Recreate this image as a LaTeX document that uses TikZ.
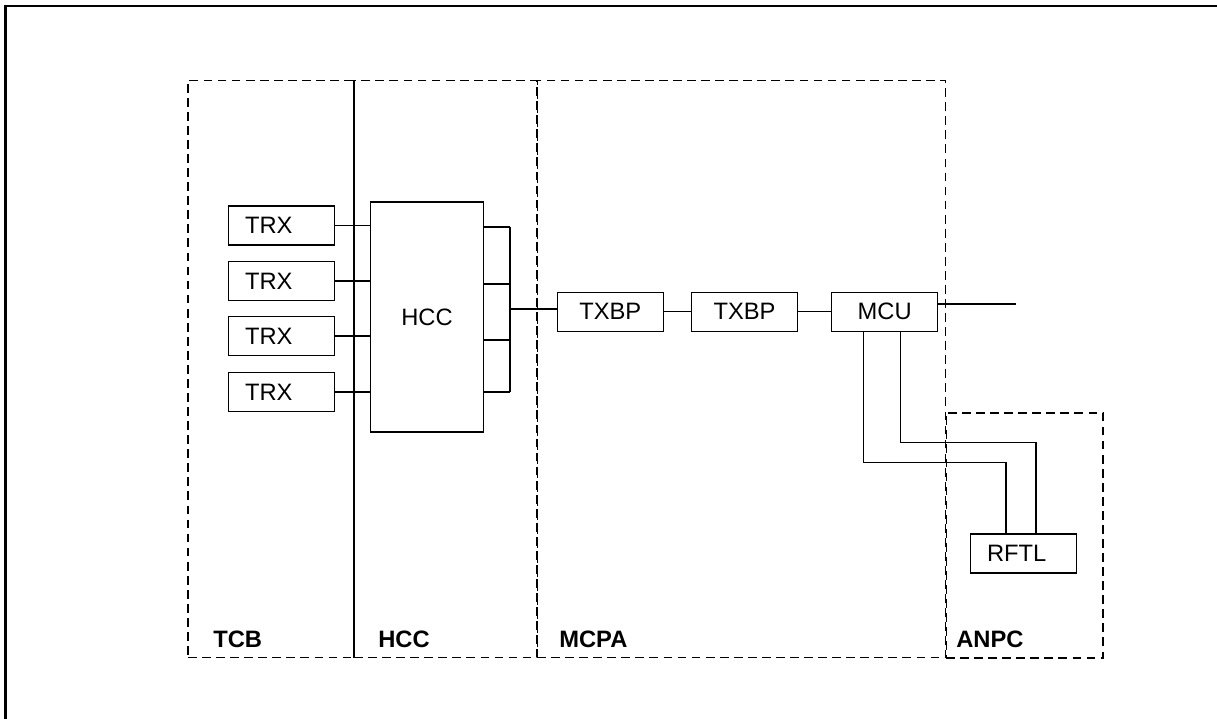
\documentclass[tikz,border=0pt]{standalone}
\usepackage{fontspec}
\setmainfont{Liberation Sans}
\usetikzlibrary{calc}

\begin{document}
\begin{tikzpicture}[x=0.02cm, y=-0.02cm,
    box/.style={draw, line width=0.6pt, inner sep=0pt, minimum width=2.12cm,
                minimum height=0.78cm, font=\fontsize{13.5}{16}\selectfont},
    lbox/.style={box, inner xsep=0.32cm, text width=1.46cm, align=left},
    region/.style={draw, dash pattern=on 5pt off 3pt, line width=0.6pt,
                   inner sep=0pt, outer sep=0pt},
    zone/.style={anchor=base west, inner sep=0pt,
                 font=\bfseries\fontsize{13.5}{16}\selectfont},
    wire/.style={line width=0.6pt}
  ]
    \useasboundingbox (0,0) rectangle (1217,719);
    \draw[line width=1.3pt] (5.5,719) |- (1217,6);

    % dashed areas
    \node[region, minimum width=3.32cm, minimum height=11.56cm] (tcb)  at (271,369)   {};
    \node[region, minimum width=3.66cm, minimum height=11.56cm] (hccz) at (445.5,369) {};
    \node[region, minimum width=8.18cm, minimum height=11.56cm] (mcpa) at (741.5,369) {};
    \node[region, minimum width=3.14cm, minimum height=4.9cm]   (anpc) at (1024.5,535.5) {};

    \node[zone] (tcbname)  at (213,647) {TCB};
    \node[zone] (hccname)  at (378,647) {HCC};
    \node[zone] (mcpaname) at (559,647) {MCPA};
    \node[zone] (anpcname) at (956,647) {ANPC};

    % blocks
    \node[box, minimum width=2.26cm, minimum height=4.6cm] (hcc) at (427,317) {HCC};
    \foreach \i/\y in {1/225.5, 2/281, 3/336, 4/392}
      \node[lbox] (trx\i) at (281.5,\y) {TRX};
    \foreach \i in {1,...,4}
      \draw[wire] (trx\i) -- (trx\i -| hcc.west);

    \node[box] (txbp1) at (610.3,311.7) {TXBP};
    \node[box] (txbp2) at (744.5,311.7) {TXBP};
    \node[box] (mcu)   at (884.7,311.7) {MCU};
    \node[lbox] (rftl) at (1023.5,553.5) {RFTL};

    % combiner outputs
    \coordinate (bus) at (510,309);
    \foreach \y in {227,284,340,392}
      \draw[wire] (hcc.east |- 0,\y) -- (bus |- 0,\y);
    \draw[wire] (bus |- 0,227) -- (bus |- 0,392);
    \draw[wire] (bus) -- (bus -| txbp1.west);

    \draw[wire] (txbp1) -- (txbp2);
    \draw[wire] (txbp2) -- (mcu);
    \coordinate (mcuout) at (1016,304);
    \draw[wire] (mcuout -| mcu.east) -- (mcuout);

    \draw[wire] ([xshift=-0.43cm]mcu.south) -- ++(0,131) -| ([xshift=-0.35cm]rftl.north);
    \draw[wire] ([xshift=0.31cm]mcu.south) -- ++(0,111) -| ([xshift=0.25cm]rftl.north);
\end{tikzpicture}
\end{document}
